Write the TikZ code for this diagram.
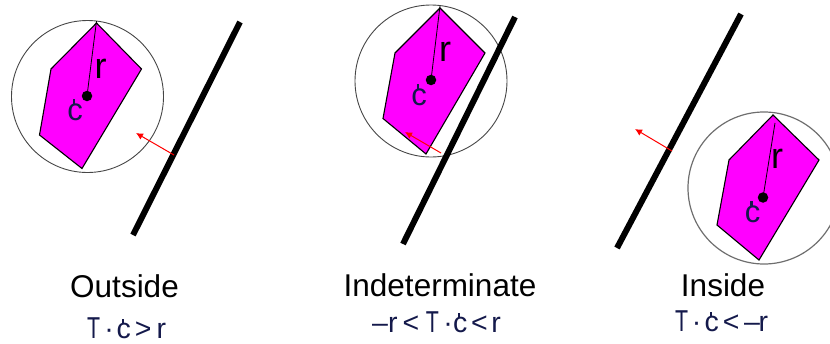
\documentclass[tikz,border=0pt]{standalone}
\usepackage{fontspec}
\setmainfont{Liberation Sans}
\usetikzlibrary{arrows.meta}
\definecolor{poly}{RGB}{255,0,255}
\definecolor{navy}{RGB}{20,25,75}
\definecolor{ringgray}{RGB}{70,70,70}
\definecolor{ringlight}{RGB}{110,110,110}
\newcommand{\tickc}{\leavevmode\rlap{\kern.17em\raisebox{.5em}{\rule{.08em}{.17em}}}c}
\newcommand{\slimT}{\scalebox{.75}[1.06]{T}}
\tikzset{
 x=1pt,y=-1pt,
 polygon/.style={fill=poly,draw=black,line width=1.1pt,line join=miter},
 ring/.style={circle,draw=ringgray,line width=0.9pt,minimum size=152pt,inner sep=0pt},
 ringpale/.style={ring,draw=ringlight,line width=1.2pt},
 plane/.style={draw=black,line width=6pt},
 normalvec/.style={draw=red,line width=1pt,-{Latex[length=7pt,width=7pt]}},
 radius/.style={draw=black,line width=0.8pt},
 centerdot/.style={circle,fill=black,inner sep=0pt,minimum size=10.5pt},
 title/.style={font=\fontsize{31.5pt}{32pt}\selectfont,inner sep=0pt,text=black,anchor=base},
 formula/.style={font=\fontsize{28.5pt}{30pt}\selectfont,inner sep=0pt,text=navy,anchor=base west},
 rlab/.style={font=\fontsize{36pt}{36pt}\selectfont,inner sep=0pt,text=black,anchor=base},
 clab/.style={font=\fontsize{31pt}{31pt}\selectfont,inner sep=0pt,text=navy,anchor=base},
}
\begin{document}
\begin{tikzpicture}
\useasboundingbox (0,0) rectangle (830,343);
% Panel 1
\node[ring] (ringA) at (87.5,96.5) {};
\filldraw[polygon] (96.5,23) -- (141.5,69) -- (82,168.5) -- (39.5,135) -- (51,69) -- cycle;
\node[centerdot] (cA) at (87,96) {};
\coordinate (tipA) at (96.5,21);
\draw[radius] (cA.center) -- (tipA);
\node[rlab] (rA) at (100.5,78) {r};
\node[clab] (lcA) at (75,120) {\tickc};
\coordinate (p1a) at (240,22); \coordinate (p1b) at (133,235);
\draw[plane] (p1a) -- (p1b);
\coordinate (n1a) at (174,155); \coordinate (n1b) at (136,133);
\draw[normalvec] (n1a) -- (n1b);
% Panel 2
\node[ring] (ringB) at (431,81) {};
\filldraw[polygon] (440,8) -- (485,53) -- (426,154) -- (383,118.5) -- (395,53) -- cycle;
\node[centerdot] (cB) at (431,80) {};
\coordinate (tipB) at (440,6);
\draw[radius] (cB.center) -- (tipB);
\node[rlab] (rB) at (445,61) {r};
\node[clab] (lcB) at (419,105) {\tickc};
\coordinate (p2a) at (515,17); \coordinate (p2b) at (403,244);
\draw[plane] (p2a) -- (p2b);
\coordinate (n2a) at (441,153); \coordinate (n2b) at (405,132);
\draw[normalvec] (n2a) -- (n2b);
% Panel 3
\node[ringpale] (ringC) at (764,188) {};
\filldraw[polygon] (773,115) -- (819,160) -- (759,260) -- (717,225) -- (729,160) -- cycle;
\node[centerdot] (cC) at (763,197.5) {};
\coordinate (tipC) at (775,123);
\draw[radius] (cC.center) -- (tipC);
\node[rlab] (rC) at (777,168) {r};
\node[clab] (lcC) at (752.5,222) {\tickc};
\coordinate (p3a) at (741,14); \coordinate (p3b) at (617,248);
\draw[plane] (p3a) -- (p3b);
\coordinate (n3a) at (672,151); \coordinate (n3b) at (635,129);
\draw[normalvec] (n3a) -- (n3b);
% Labels
\node[title] (tA) at (124.5,297.5) {Outside};
\node[title] (tB) at (440,296.5) {Indeterminate};
\node[title] (tC) at (723,296.5) {Inside};
\node[formula] (fA) at (87,338) {\slimT\kern4pt ·\kern3pt \tickc\kern4pt >\kern5pt r};
\node[formula] (fB) at (372,332) {–r\kern5pt <\kern6.6pt \slimT\kern4.5pt ·\kern.4pt \tickc\kern3.6pt <\kern3.6pt r};
\node[formula] (fC) at (675,331) {\slimT\kern3.5pt ·\kern3.4pt \tickc\kern4pt <\kern4.6pt –\kern-1.5pt r};
\end{tikzpicture}
\end{document}
